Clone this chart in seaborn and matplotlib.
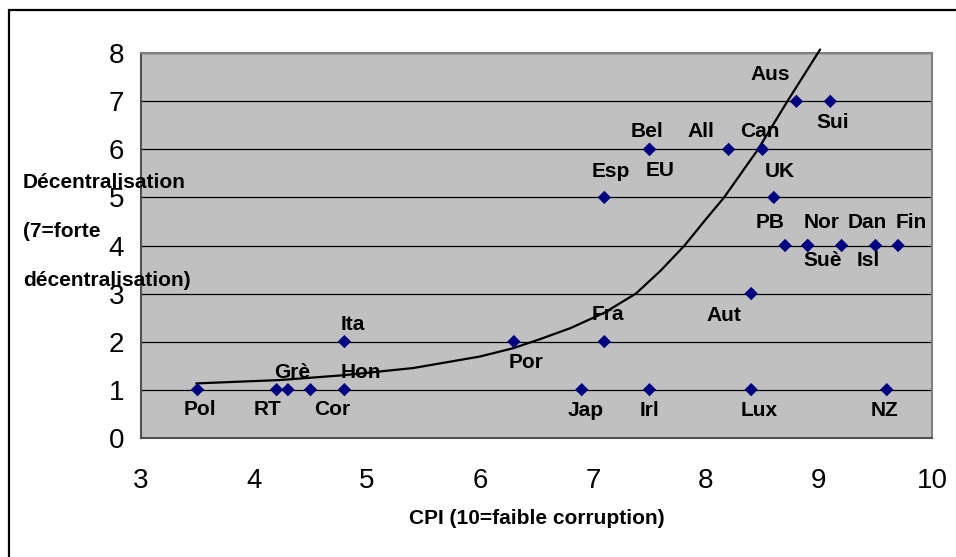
import matplotlib
matplotlib.use("Agg")
import matplotlib.pyplot as plt
from matplotlib.patches import Rectangle
import seaborn as sns
import pandas as pd

# data
countries = ["Pol", "RT", "Grè", "Cor", "Hon", "Ita", "Por", "Fra", "Aut", "Jap",
             "Irl", "Lux", "NZ", "Esp", "Bel", "EU", "All", "Can", "UK", "PB",
             "Nor", "Suè", "Dan", "Isl", "Fin", "Aus", "Sui"]
cpi = [3.5, 4.2, 4.3, 4.5, 4.8, 4.8, 6.3, 7.1, 8.4, 6.9,
       7.5, 8.4, 9.6, 7.1, 7.5, 7.5, 8.2, 8.5, 8.6, 8.7,
       8.9, 8.9, 9.5, 9.2, 9.7, 8.8, 9.1]
decentral = [1, 1, 1, 1, 1, 2, 2, 2, 3, 1,
             1, 1, 1, 5, 6, 6, 6, 6, 5, 4,
             4, 4, 4, 4, 4, 7, 7]

# hand-drawn trend curve
curve_x = [3.49, 4.23, 4.79, 5.41, 6.00, 6.29, 6.53, 6.80, 7.10, 7.38,
           7.60, 7.81, 8.00, 8.16, 8.46, 8.72, 9.01]
curve_y = [1.13, 1.20, 1.30, 1.45, 1.69, 1.86, 2.05, 2.28, 2.60, 3.00,
           3.48, 4.00, 4.55, 5.00, 6.00, 7.00, 8.08]

x_ticks = [3, 4, 5, 6, 7, 8, 9, 10]
y_ticks = [0, 1, 2, 3, 4, 5, 6, 7, 8]
y_title = ["Décentralisation", "(7=forte", "décentralisation)"]
x_title = "CPI (10=faible corruption)"

# label placement (pixels from the marker, +y = up)
label_offsets = {
    "Pol": (2, -20), "RT": (-9, -20), "Grè": (4, 17), "Cor": (22, -20),
    "Hon": (16, 17), "Ita": (8, 17), "Por": (12, -21), "Fra": (4, 27),
    "Aut": (-27, -22), "Jap": (4, -21), "Irl": (0, -21), "Lux": (8, -21),
    "NZ": (-2, -21), "Esp": (7, 26), "Bel": (-2, 18), "EU": (11, -21),
    "All": (-28, 18), "Can": (-3, 18), "UK": (6, 26), "PB": (-15, 23),
    "Nor": (14, 23), "Suè": (15, -15), "Dan": (-8, 23), "Isl": (27, -15),
    "Fin": (13, 23), "Aus": (-26, 27), "Sui": (2, -21),
}

df = pd.DataFrame({"pays": countries, "cpi": cpi, "dec": decentral})
curve = pd.DataFrame({"x": curve_x, "y": curve_y})

sns.set_style("white")
plt.rcParams["font.family"] = ["Liberation Sans", "DejaVu Sans"]
plt.rcParams["text.color"] = "black"
plt.rcParams["xtick.color"] = "black"
plt.rcParams["ytick.color"] = "black"
plt.rcParams["axes.labelcolor"] = "black"

W, H = 956, 557
fig = plt.figure(figsize=(W / 100, H / 100), dpi=100)
ax = fig.add_axes([141 / W, (H - 437.7) / H, (932 - 141) / W, (437.7 - 53.3) / H])
ax.set_facecolor("#C0C0C0")

# chart area frame (cut off at right/bottom in the original)
fig.patches.append(Rectangle((9 / W, -0.1), 1.2, 1 - 10 / H + 0.1, transform=fig.transFigure,
                             fill=False, edgecolor="black", linewidth=1.6, clip_on=False))

for yv in y_ticks[1:]:
    ax.axhline(yv, color="black", linewidth=0.9, zorder=1)

sns.lineplot(data=curve, x="x", y="y", ax=ax, color="black", linewidth=1.6,
             sort=False, estimator=None, clip_on=False, zorder=3)
sns.scatterplot(data=df, x="cpi", y="dec", ax=ax, marker="D", s=46,
                color="#000080", edgecolor="none", zorder=4)

for name, xv, yv in zip(countries, cpi, decentral):
    dx, dy = label_offsets[name]
    ax.annotate(name, (xv, yv), xytext=(dx * 0.72, dy * 0.72), textcoords="offset points",
                ha="center", va="center", fontsize=15, fontweight="bold", zorder=5)

ax.set_xlim(3, 10)
ax.set_ylim(0, 8)
ax.set_xticks(x_ticks)
ax.set_yticks(y_ticks)
ax.tick_params(axis="both", labelsize=20, length=6, width=1, color="#404040", direction="out")
ax.tick_params(axis="x", pad=16)
ax.tick_params(axis="y", pad=6)

for side in ["left", "bottom"]:
    ax.spines[side].set_color("#505050")
    ax.spines[side].set_linewidth(1.5)
for side in ["top", "right"]:
    ax.spines[side].set_color("#808080")
    ax.spines[side].set_linewidth(1.5)

ax.set_xlabel(x_title, fontsize=15, fontweight="bold")
ax.xaxis.set_label_coords(0.5, (437.7 - 518) / 384.4)
ax.xaxis.label.set_va("center")
ax.set_ylabel("")

for line, ypx in zip(y_title, [182.3, 231.7, 280]):
    fig.text(23 / W, 1 - ypx / H, line, ha="left", va="center",
             fontsize=15, fontweight="bold", zorder=10)

fig.savefig("out.png", dpi=100)
